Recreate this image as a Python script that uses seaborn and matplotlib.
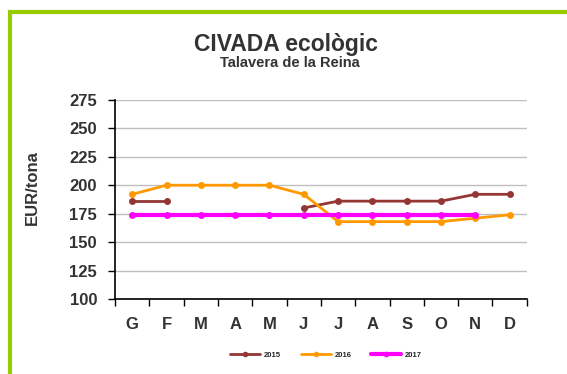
import numpy as np
import pandas as pd
import matplotlib
matplotlib.use("Agg")
import matplotlib.pyplot as plt
from matplotlib.patches import Rectangle
import seaborn as sns

months = ["G", "F", "M", "A", "M", "J", "J", "A", "S", "O", "N", "D"]
years = ["2015", "2016", "2017"]
price_2015 = [186, 186, np.nan, np.nan, np.nan, 180, 186, 186, 186, 186, 192, 192]
price_2016 = [192, 200, 200, 200, 200, 192, 168, 168, 168, 168, 171, 174]
price_2017 = [174, 174, 174, 174, 174, 174, 174, 174, 174, 174, 174, np.nan]
y_ticks = [100, 125, 150, 175, 200, 225, 250, 275]

colors = {"2015": "#943634", "2016": "#FF9900", "2017": "#FF00FF"}
widths = {"2015": 2.0, "2016": 2.0, "2017": 3.0}

# long-form table; a new segment starts after each gap so lines break there
rows = []
for year, vals in zip(years, [price_2015, price_2016, price_2017]):
    seg = 0
    prev_nan = False
    for i, v in enumerate(vals):
        if np.isnan(v):
            prev_nan = True
            continue
        if prev_nan:
            seg += 1
            prev_nan = False
        rows.append({"pos": i, "price": v, "year": year, "seg": f"{year}-{seg}"})
df = pd.DataFrame(rows)

sns.set_theme(style="white")
plt.rcParams["font.family"] = ["Liberation Sans", "DejaVu Sans"]
text_col = "#333333"

fig = plt.figure(figsize=(5.67, 3.74), dpi=100)
ax = fig.add_axes([0.203, 0.2005, 0.726, 0.5325])

for year in years:
    sub = df[df["year"] == year]
    sns.lineplot(data=sub, x="pos", y="price", units="seg", estimator=None,
                 color=colors[year], linewidth=widths[year], marker="o",
                 markersize=5, markeredgewidth=0, ax=ax, legend=False,
                 zorder=3)

ax.set_xlim(-0.5, 11.5)
ax.set_ylim(100, 275)
ax.set_yticks(y_ticks)
ax.set_yticklabels([str(t) for t in y_ticks], fontsize=12, fontweight="bold",
                   color=text_col)
ax.yaxis.grid(True, color="#BFBFBF", linewidth=1)
ax.set_axisbelow(True)

ax.set_xticks(np.arange(-0.5, 12, 1))
ax.set_xticklabels([])
ax.set_xticks(np.arange(12), minor=True)
ax.set_xticklabels(months, minor=True, fontsize=12, fontweight="bold",
                   color=text_col)
ax.tick_params(axis="x", which="major", direction="out", length=5, width=1,
               color="black", bottom=True)
ax.tick_params(axis="x", which="minor", length=0, pad=13, bottom=True)
ax.tick_params(axis="y", direction="out", length=5, width=1, color="black",
               left=True, pad=8)

for s in ["top", "right"]:
    ax.spines[s].set_visible(False)
for s in ["left", "bottom"]:
    ax.spines[s].set_color("black")
    ax.spines[s].set_linewidth(1.2)

ax.set_xlabel("")
ax.set_ylabel("EUR/tona", fontsize=12, fontweight="bold", color=text_col)
ax.yaxis.set_label_coords(-0.182, 0.56)

fig.text(0.505, 0.882, "CIVADA ecològic", ha="center", va="center",
         fontsize=16.5, fontweight="bold", color=text_col)
fig.text(0.512, 0.832, "Talavera de la Reina", ha="center", va="center",
         fontsize=10.5, fontweight="bold", color=text_col)

handles = [plt.Line2D([], [], color=colors[y], linewidth=widths[y], marker="o",
                      markersize=4, markeredgewidth=0) for y in years]
fig.legend(handles, years, loc="center", bbox_to_anchor=(0.575, 0.05), ncol=3,
           frameon=False, prop={"size": 5.5, "weight": "bold"},
           handlelength=3.9, columnspacing=2.6, handletextpad=0.5)

# green frame along top and left
fig.add_artist(Rectangle((0.0185, -0.1), 1.2, 1.069, transform=fig.transFigure,
                         fill=False, edgecolor="#99CC00", linewidth=3))

fig.savefig("out.png", dpi=100)
